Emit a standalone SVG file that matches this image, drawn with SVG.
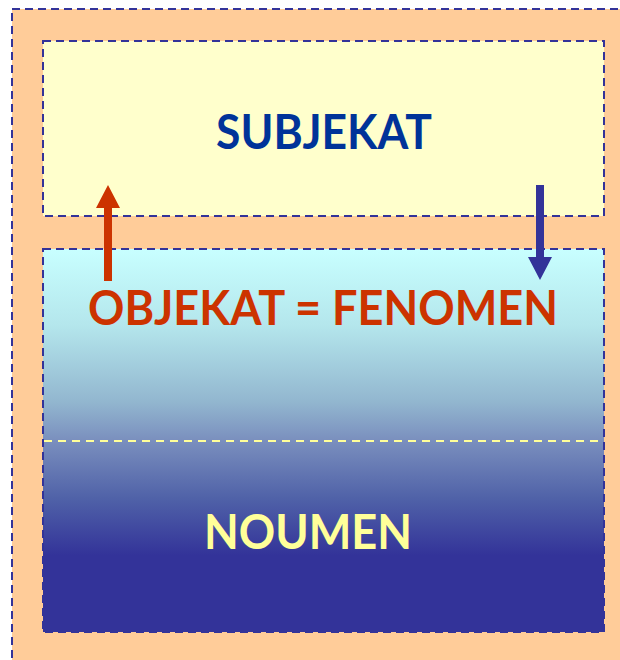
<svg xmlns="http://www.w3.org/2000/svg" width="620" height="660" viewBox="0 0 620 660">
<defs>
<style>
.box{stroke:#333399;stroke-width:2;stroke-dasharray:8,5}
.lbl{font-family:Lato,"Liberation Sans",sans-serif;font-weight:bold;font-size:48px;text-anchor:middle}
</style>
<linearGradient id="g" x1="0" y1="249" x2="0" y2="632" gradientUnits="userSpaceOnUse">
<stop offset="0" stop-color="#c8ffff"/>
<stop offset="0.2" stop-color="#b4e6ec"/>
<stop offset="0.4" stop-color="#92b6cf"/>
<stop offset="0.5" stop-color="#7a8fbe"/>
<stop offset="0.65" stop-color="#5062a8"/>
<stop offset="0.8" stop-color="#333399"/>
<stop offset="1" stop-color="#333399"/>
</linearGradient>
</defs>
<rect width="620" height="660" fill="#ffffff"/>
<g id="outer"><rect x="12" y="9" width="620" height="660" fill="#ffcc99" class="box"/></g>
<g id="subjekat">
<rect x="43" y="41" width="561" height="175" fill="#ffffcc" class="box"/>
<text x="324" y="149" class="lbl" fill="#003399" textLength="216" lengthAdjust="spacingAndGlyphs">SUBJEKAT</text>
</g>
<g id="objekat">
<rect x="43" y="249" width="561" height="383" fill="url(#g)" class="box"/>
<line x1="44" y1="441" x2="603" y2="441" stroke="#ffff99" stroke-width="2" stroke-dasharray="8,6"/>
<text x="323" y="325" class="lbl" fill="#cc3300" textLength="470" lengthAdjust="spacingAndGlyphs">OBJEKAT = FENOMEN</text>
</g>
<g id="noumen">
<text x="308" y="549" class="lbl" fill="#ffff99" textLength="208" lengthAdjust="spacingAndGlyphs">NOUMEN</text>
</g>
<g id="connectors">
<polygon points="104,281 112,281 112,208 120,208 108,185 96,208 104,208" fill="#cc3300"/>
<polygon points="536,185 544,185 544,257 552,257 540,280 528,257 536,257" fill="#333399"/>
</g>
</svg>
